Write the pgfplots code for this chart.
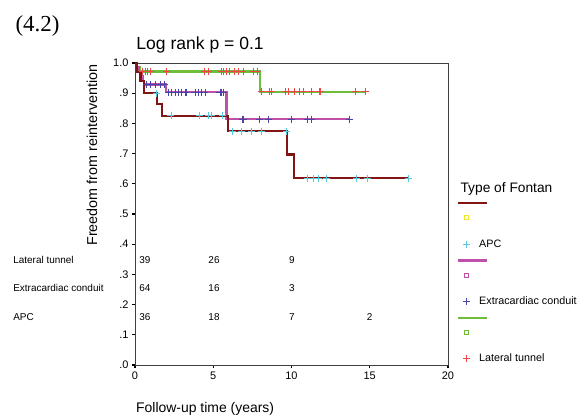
\documentclass[border=0pt]{standalone}
\usepackage{fontspec}
\setmainfont{Liberation Sans}
\newfontfamily\serifnum{Liberation Serif}
\usepackage{pgfplots}
\pgfplotsset{compat=1.18}
\definecolor{apcLine}{RGB}{130,20,20}
\definecolor{ecLine}{RGB}{190,80,170}
\definecolor{ltLine}{RGB}{110,190,60}
\definecolor{apcMark}{RGB}{90,200,220}
\definecolor{ecMark}{RGB}{70,70,170}
\definecolor{ltMark}{RGB}{240,70,70}
\definecolor{sqYellow}{RGB}{240,230,40}
\pgfplotsset{
  % legend images; the invisible rectangles give each legend row its height
  kmline/.style={legend image code/.code={\draw[line width=2.2bp,draw=#1,overlay] (0bp,0bp) -- (29bp,0bp);
                                          \path[draw=none,fill=none] (0bp,-2.35bp) rectangle (17bp,2.35bp);}},
  legsq/.style={only marks, mark=square, mark size=2bp, draw=#1, mark options={draw=#1, line width=0.8bp},
    legend image code/.code={\draw[##1,mark repeat=2,mark phase=2] plot coordinates {(0bp,0bp) (8.5bp,0bp) (17bp,0bp)};
                             \path[draw=none,fill=none] (0bp,-12.15bp) rectangle (17bp,12.15bp);}},
  legplus/.style={only marks, mark=+, mark size=3.5bp, draw=#1, mark options={draw=#1, line width=0.9bp},
    legend image code/.code={\draw[##1,mark repeat=2,mark phase=2] plot coordinates {(0bp,0bp) (8.5bp,0bp) (17bp,0bp)};
                             \path[draw=none,fill=none] (0bp,-14.15bp) rectangle (17bp,14.15bp);}},
  cens/.style={only marks, mark=+, mark size=3.5bp, mark options={line width=0.8bp}, forget plot},
  curve/.style={const plot, line width=2.2bp, no marks, forget plot},
}
\newcommand{\sz}[1]{\fontsize{#1}{#1}\selectfont}

\begin{document}
\begin{tikzpicture}
\begin{axis}[
  scale only axis, width=313bp, height=302bp,
  xmin=0, xmax=20, ymin=0, ymax=1,
  clip=false,
  axis line style={black!75, line width=0.7bp},
  xtick={0,5,10,15,20}, xticklabels={0,5,10,15,20},
  ytick={0,0.1,0.2,0.3,0.4,0.5,0.6,0.7,0.8,0.9,1.0},
  yticklabels={.0,.1,.2,.3,.4,.5,.6,.7,.8,.9,1.0},
  xtick pos=left, ytick pos=left, tick align=outside,
  major tick length=3bp, tick style={black, line width=1.2bp},
  tick label style={font=\sz{11}},
  /pgf/number format/assume math mode=true,
  title={Log rank p = 0.1},
  title style={font=\sz{17.6}, at={(0.208,1)}, anchor=base, yshift=8bp, inner sep=0pt},
  xlabel={Follow-up time (years)},
  xlabel style={font=\sz{14}, at={(0.224,0)}, anchor=base, yshift=-47bp, inner sep=0pt},
  ylabel={Freedom from reintervention},
  ylabel style={font=\sz{14.4}, at={(-0.137,0.695)}, anchor=center, inner sep=0pt},
  legend style={at={(1.032,0.5442)}, anchor=north west, draw=none, fill=none,
    font=\sz{10.8}, row sep=0bp, column sep=4bp, inner sep=0pt,
    nodes={inner sep=0pt}},
  legend cell align=left,
]
% Lateral tunnel
\addplot[curve, ltLine] coordinates {(0,1.0) (0.15,0.986) (0.3,0.972) (8.0,0.905) (14.75,0.905)};
% Extracardiac conduit
\addplot[curve, ecLine] coordinates {(0,1.0) (0.12,0.985) (0.25,0.97) (0.4,0.955) (0.5,0.94)
  (0.6,0.929) (2.0,0.903) (5.85,0.814) (13.7,0.814)};
% APC
\addplot[curve, apcLine] coordinates {(0,1.0) (0.15,0.97) (0.35,0.94) (0.6,0.90) (1.4,0.864)
  (1.7,0.825) (5.95,0.774) (9.73,0.697) (10.15,0.619) (17.5,0.619)};

% censored
\addplot[cens, ltMark] coordinates {(0.45,0.972) (0.65,0.972) (0.8,0.972) (1.0,0.972) (2.0,0.972)
  (4.45,0.972) (4.7,0.972) (5.5,0.972) (5.65,0.972) (5.85,0.972) (6.05,0.972) (6.35,0.972)
  (6.6,0.972) (6.9,0.972) (7.55,0.972) (7.8,0.972)
  (8.07,0.905) (8.6,0.905) (8.71,0.905) (9.6,0.905) (9.81,0.905) (10.19,0.905) (10.51,0.905)
  (10.79,0.905) (11.3,0.905) (11.79,0.905) (11.86,0.905) (14.07,0.905) (14.7,0.905)};
\addplot[cens, ecMark] coordinates {(0.75,0.929) (1.0,0.929) (1.3,0.929) (1.6,0.929) (1.9,0.929)
  (2.13,0.903) (2.34,0.903) (2.56,0.903) (2.77,0.903) (2.98,0.903) (3.19,0.903) (3.3,0.903)
  (3.83,0.903) (4.05,0.903) (4.26,0.903) (4.47,0.903) (5.43,0.903) (5.54,0.903) (5.64,0.903)
  (6.85,0.814) (6.95,0.814) (7.95,0.814) (8.5,0.814) (10.0,0.814) (11.0,0.814) (11.25,0.814)
  (13.7,0.814)};
\addplot[cens, apcMark] coordinates {(1.35,0.90)
  (2.3,0.825) (4.1,0.825) (4.7,0.825) (4.9,0.825) (5.6,0.825)
  (6.2,0.774) (6.8,0.774) (7.45,0.774) (8.1,0.774) (9.65,0.774)
  (11.0,0.619) (11.4,0.619) (11.75,0.619) (12.25,0.619) (14.15,0.619) (14.85,0.619) (17.5,0.619)};

% legend
\addlegendimage{kmline=apcLine}
\addlegendentry{}
\addlegendimage{legsq=sqYellow}
\addlegendentry{}
\addlegendimage{legplus=apcMark}
\addlegendentry{APC}
\addlegendimage{kmline=ecLine}
\addlegendentry{}
\addlegendimage{legsq=ecLine}
\addlegendentry{}
\addlegendimage{legplus=ecMark}
\addlegendentry{Extracardiac conduit}
\addlegendimage{kmline=ltLine}
\addlegendentry{}
\addlegendimage{legsq=ltLine}
\addlegendentry{}
\addlegendimage{legplus=ltMark}
\addlegendentry{Lateral tunnel}

% number at risk
\node[anchor=west, font=\sz{13.8}] at (rel axis cs:1.029,0.582) {Type of Fontan};
\node[anchor=west, font=\sz{10}] at (axis cs:-8,0.348) {Lateral tunnel};
\node[anchor=west, font=\sz{10}] at (axis cs:-8,0.255) {Extracardiac conduit};
\node[anchor=west, font=\sz{10}] at (axis cs:-8,0.159) {APC};
\node[anchor=west, font=\sz{10}] at (axis cs:0.05,0.348) {39};
\node[font=\sz{10}] at (axis cs:5.05,0.348) {26};
\node[font=\sz{10}] at (axis cs:10.03,0.348) {9};
\node[anchor=west, font=\sz{10}] at (axis cs:0.05,0.255) {64};
\node[font=\sz{10}] at (axis cs:5.05,0.255) {16};
\node[font=\sz{10}] at (axis cs:10.03,0.255) {3};
\node[anchor=west, font=\sz{10}] at (axis cs:0.05,0.159) {36};
\node[font=\sz{10}] at (axis cs:5.05,0.159) {18};
\node[font=\sz{10}] at (axis cs:10.03,0.159) {7};
\node[font=\sz{10}] at (axis cs:15.0,0.159) {2};
\end{axis}
\node[anchor=west, font=\serifnum\sz{23}] at ([xshift=-123bp,yshift=339bp]current axis.south west) {(4.2)};
\path ([xshift=-135bp,yshift=-54bp]current axis.south west) rectangle ++(586bp,419bp);
\end{tikzpicture}
\end{document}
